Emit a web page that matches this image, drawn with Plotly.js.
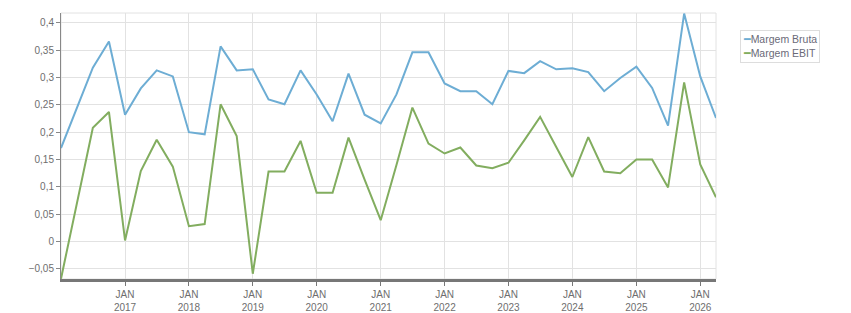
<!DOCTYPE html>
<html>
<head>
<meta charset="utf-8">
<script src="https://cdn.plot.ly/plotly-3.0.1.min.js"></script>
<style>html,body{margin:0;padding:0;background:#fff;}#chart{width:851px;height:313px;}</style>
</head>
<body>
<div id="chart"></div>
<script>
const dates = ['2016-01-01','2016-07-01','2016-10-01','2017-01-01','2017-04-01','2017-07-01','2017-10-01','2018-01-01','2018-04-01','2018-07-01','2018-10-01','2019-01-01','2019-04-01','2019-07-01','2019-10-01','2020-01-01','2020-04-01','2020-07-01','2020-10-01','2021-01-01','2021-04-01','2021-07-01','2021-10-01','2022-01-01','2022-04-01','2022-07-01','2022-10-01','2023-01-01','2023-04-01','2023-07-01','2023-10-01','2024-01-01','2024-04-01','2024-07-01','2024-10-01','2025-01-01','2025-04-01','2025-07-01','2025-10-01','2026-01-01','2026-04-01'];
const margemBruta = [0.171,0.318,0.366,0.232,0.280,0.313,0.302,0.200,0.196,0.357,0.313,0.315,0.260,0.251,0.313,0.269,0.220,0.307,0.232,0.216,0.269,0.346,0.346,0.289,0.275,0.275,0.251,0.312,0.308,0.330,0.315,0.317,0.310,0.275,0.299,0.320,0.281,0.212,0.417,0.302,0.226];
const margemEBIT = [-0.068,0.208,0.237,0.002,0.129,0.186,0.137,0.028,0.032,0.251,0.193,-0.059,0.128,0.128,0.184,0.089,0.089,0.190,0.113,0.039,0.140,0.245,0.179,0.161,0.172,0.139,0.134,0.144,0.185,0.228,0.173,0.118,0.191,0.128,0.125,0.150,0.150,0.099,0.291,0.141,0.081];
const seriesNames = ['Margem Bruta','Margem EBIT'];
const seriesColors = ['#6dadd4','#82ad5f'];
const tickDates = ['2017-01-01','2018-01-01','2019-01-01','2020-01-01','2021-01-01','2022-01-01','2023-01-01','2024-01-01','2025-01-01','2026-01-01'];
const tickText = ['JAN<br>2017','JAN<br>2018','JAN<br>2019','JAN<br>2020','JAN<br>2021','JAN<br>2022','JAN<br>2023','JAN<br>2024','JAN<br>2025','JAN<br>2026'];
const yTicks = [-0.05,0,0.05,0.1,0.15,0.2,0.25,0.3,0.35,0.4];

const font = 'Liberation Sans, Arial, sans-serif';
const traces = [margemBruta, margemEBIT].map((ys, i) => ({
  x: dates, y: ys, type: 'scatter', mode: 'lines', name: seriesNames[i],
  line: {color: seriesColors[i], width: 2}, showlegend: false
}));

const legendText = seriesNames.map((n, i) =>
  `<span style="color:${seriesColors[i]};font-family:DejaVu Sans Mono;font-size:11px;font-weight:bold">━</span>${n}`).join('<br>');

const layout = {
  width: 851, height: 313,
  margin: {l: 61, r: 135, t: 13, b: 34},
  paper_bgcolor: '#fff', plot_bgcolor: '#fff',
  separators: ', ',
  font: {family: font, size: 10, color: '#6e6e6e'},
  xaxis: {
    type: 'date', range: ['2016-01-01', '2026-04-01'],
    tickvals: tickDates, ticktext: tickText,
    showgrid: true, gridcolor: '#e2e2e2', gridwidth: 1,
    showline: true, linecolor: '#777', linewidth: 3,
    ticks: 'outside', ticklen: 4, tickcolor: '#777', tickwidth: 1,
    zeroline: false, tickfont: {family: font, size: 10, color: '#6e6e6e'}
  },
  yaxis: {
    range: [-0.0686, 0.418],
    tickvals: yTicks,
    showgrid: true, gridcolor: '#e2e2e2', gridwidth: 1,
    showline: true, linecolor: '#888', linewidth: 1,
    ticks: 'outside', ticklen: 4, tickcolor: '#888', tickwidth: 1,
    zeroline: false, tickfont: {family: font, size: 10, color: '#6e6e6e'}
  },
  shapes: [{type: 'rect', xref: 'paper', yref: 'paper', x0: 0, x1: 1, y0: 0, y1: 1,
    line: {color: '#e2e2e2', width: 1}, layer: 'below'}],
  annotations: [{
    xref: 'paper', yref: 'paper', x: 1.0365, y: 0.936, xanchor: 'left', yanchor: 'top',
    text: legendText, showarrow: false, align: 'left',
    bordercolor: '#dddddd', borderwidth: 1, borderpad: 2, bgcolor: '#fff',
    font: {family: font, size: 10.5, color: '#6a6a78'}
  }]
};

Plotly.newPlot('chart', traces, layout, {displayModeBar: false, staticPlot: true});
</script>
</body>
</html>
